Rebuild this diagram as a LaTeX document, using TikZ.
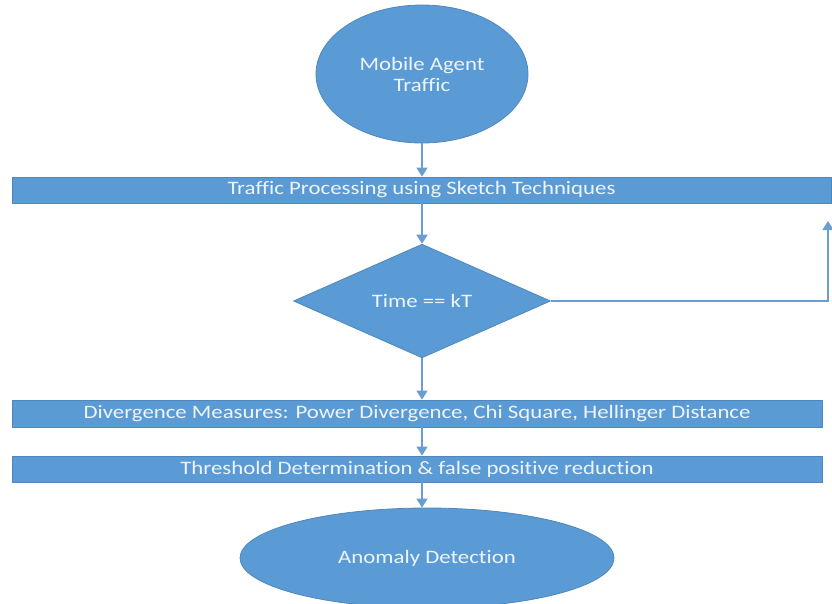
\documentclass[tikz,border=0pt]{standalone}
\usepackage{fontspec}
\setmainfont{Carlito}[FakeStretch=1.2, Ligatures=NoCommon]
\usepackage{tikz}
\usetikzlibrary{shapes.geometric, arrows.meta, positioning}

\definecolor{officeblue}{HTML}{5B9BD5}
\definecolor{edgeblue}{HTML}{4F87BC}
\definecolor{lineblue}{HTML}{6A9ED3}
\definecolor{paletext}{HTML}{EEF4FB}

\tikzset{
  shapebase/.style={fill=officeblue, draw=edgeblue, line width=0.8pt, text=paletext,
    font=\fontsize{19}{21}\selectfont, inner sep=0pt},
  bandbox/.style={shapebase, rectangle, minimum height=26pt},
  decision/.style={shapebase, diamond, minimum width=257pt, minimum height=108pt},
  terminal/.style={shapebase, ellipse},
  flow/.style={draw=lineblue, line width=1.6pt, -{Triangle[length=9pt, width=11pt]}}
}

\begin{document}
\begin{tikzpicture}[x=1pt, y=-1pt]
  \useasboundingbox (0,0) rectangle (832,603);
  \begin{scope}
    \clip (0,0) rectangle (832,603);
    \node[terminal, minimum width=212pt, minimum height=138pt, align=center] (src) at (422,74) {Mobile Agent\\Traffic};
    \node[bandbox, minimum width=819pt] (sketch) at (421.5,190) {Traffic Processing using Sketch Techniques};
    \node[decision] (timecheck) at (422,301) {Time == kT};
    \node[bandbox, minimum width=810pt, minimum height=27pt] (diverge) at (417,413.5) {Divergence Measures: Power Divergence, Chi Square, Hellinger Distance};
    \node[bandbox, minimum width=810pt] (thresh) at (417,469) {Threshold Determination \& false positive reduction};
    \node[terminal, minimum width=374pt, minimum height=100pt] (detect) at (427,558) {Anomaly Detection};

    % feedback corner points
    \coordinate (loopcorner) at (828,301);
    \coordinate (loopend) at (828,221);

    \draw[flow] (src.south) -- (src.south |- sketch.north);
    \draw[flow] (timecheck.north |- sketch.south) -- (timecheck.north);
    \draw[flow] (timecheck.south) -- (timecheck.south |- diverge.north);
    \draw[flow] (timecheck.south |- diverge.south) -- (timecheck.south |- thresh.north);
    \draw[flow] (timecheck.south |- thresh.south) -- (timecheck.south |- detect.north);
    \draw[flow] (timecheck.east) -- (loopcorner) -- (loopend);
  \end{scope}
\end{tikzpicture}
\end{document}
